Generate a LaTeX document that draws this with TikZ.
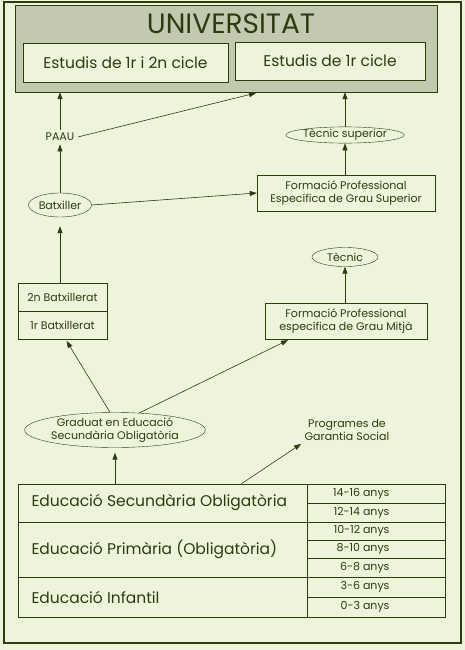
\documentclass[tikz,border=0pt]{standalone}
\usepackage{fontspec}
\setmainfont{Poppins}
\usetikzlibrary{arrows.meta,shapes.geometric}
\definecolor{fons}{HTML}{EEF4DC}
\definecolor{tinta}{HTML}{2F3A10}
\definecolor{gris}{HTML}{C3C9B0}
\newcommand{\lletrapetita}{\fontsize{11}{12.5}\selectfont}
\newcommand{\lletragran}{\fontsize{15.5}{17}\selectfont}
\begin{document}
\begin{tikzpicture}[x=1pt,y=-1pt,
    every node/.style={text=tinta},
    caixa/.style={draw=tinta,fill=fons,rectangle,inner sep=0pt,align=center,font=\lletrapetita},
    oval/.style={draw=tinta,ellipse,inner sep=0pt,align=center,font=\lletrapetita},
    fletxa/.style={draw=tinta,line width=0.6pt,-{Triangle[length=7pt,width=5pt]}},
    ratlla/.style={draw=tinta,line width=0.6pt}]
    \fill[fons] (0,0) rectangle (465,650);
    \useasboundingbox (0,0) rectangle (465,650);
    \draw[tinta,line width=1.5pt] (4,2) rectangle (461,643);
    % universitat
    \node[caixa,fill=gris,minimum width=422pt,minimum height=87pt] (univ) at (226,48.5) {};
    \node[font=\fontsize{28}{30}\selectfont] (titol) at (231,24) {UNIVERSITAT};
    \node[caixa,minimum width=205pt,minimum height=39pt,font=\lletragran] (cicle12) at (125.5,62.5) {Estudis de 1r i 2n cicle};
    \node[caixa,minimum width=190pt,minimum height=38pt,font=\lletragran] (cicle1) at (330,61) {Estudis de 1r cicle};
    \coordinate (entrada) at (256,93);
    % batxillerat
    \node[font=\lletrapetita] (paau) at (60,137) {PAAU};
    \node[oval,minimum width=63pt,minimum height=24pt] (batx) at (60,205) {Batxiller};
    \node[caixa,minimum width=89pt,minimum height=28pt] (batx2) at (62.5,297) {2n Batxillerat};
    \node[caixa,minimum width=89pt,minimum height=28pt] (batx1) at (62.5,325) {1r Batxillerat};
    % formacio professional
    \node[oval,minimum width=114pt,minimum height=16pt] (tsup) at (345,135) {Tècnic superior};
    \node[caixa,minimum width=178pt,minimum height=36pt] (fpsup) at (346,193) {Formació Professional\\Específica de Grau Superior};
    \node[oval,minimum width=66pt,minimum height=19pt] (tec) at (345,257) {Tècnic};
    \node[caixa,minimum width=162pt,minimum height=36pt] (fpmig) at (346,321) {Formació Professional\\específica de Grau Mitjà};
    % eso
    \node[oval,minimum width=177pt,minimum height=35pt] (grad) at (115,430) {Graduat en Educació\\Secundària Obligatòria};
    \node[font=\lletrapetita,align=center] (prog) at (347,430) {Programes de\\Garantia Social};
    \node[draw=tinta,line width=0.6pt,minimum width=427pt,minimum height=133pt,inner sep=0pt] (taula) at (231.5,550.5) {};

    \draw[fletxa] (paau.north) -- (paau.north |- univ.south);
    \draw[fletxa] (paau.east) -- (entrada);
    \draw[fletxa] (tsup.north) -- (tsup.north |- univ.south);
    \draw[fletxa] (fpsup.north -| tsup) -- (tsup.south);
    \draw[fletxa] (batx.north) -- (paau.south);
    \draw[fletxa] (batx.east) -- (fpsup.west);
    \draw[fletxa,shorten >=9pt] (batx2.north -| batx) -- (batx.south);
    \draw[fletxa] (fpmig.north -| tec) -- (tec.south);
    \draw[fletxa,shorten >=2pt] ([xshift=-5pt]grad.north) -- ([xshift=3pt]batx1.south);
    \draw[fletxa,shorten >=2pt] (grad.35) -- ([xshift=25pt]fpmig.south west);
    \draw[fletxa,shorten >=5pt] (taula.north -| grad) -- (grad.south);
    \draw[fletxa] ([xshift=10pt]taula.north) -- (prog.south west);

    % taula d'etapes
    \draw[ratlla] (307,484) -- (307,617);
    \draw[ratlla] (18,522) -- (445,522) (18,577) -- (445,577);
    \foreach \y in {503,540,558,597}
        \draw[ratlla] (307,\y) -- (445,\y);
    \node[anchor=west,font=\lletragran] (eso) at (28,502) {Educació Secundària Obligatòria};
    \node[anchor=west,font=\lletragran] (primaria) at (28,549) {Educació Primària (Obligatòria)};
    \node[anchor=west,font=\lletragran] (infantil) at (28,597) {Educació Infantil};
    \foreach \edat/\y in {14-16/493.5,12-14/512.5,10-12/531,8-10/549,6-8/567.5,3-6/587,0-3/607}
        \node[anchor=east,font=\lletrapetita] at (393,\y) {\edat{} anys};
\end{tikzpicture}
\end{document}
